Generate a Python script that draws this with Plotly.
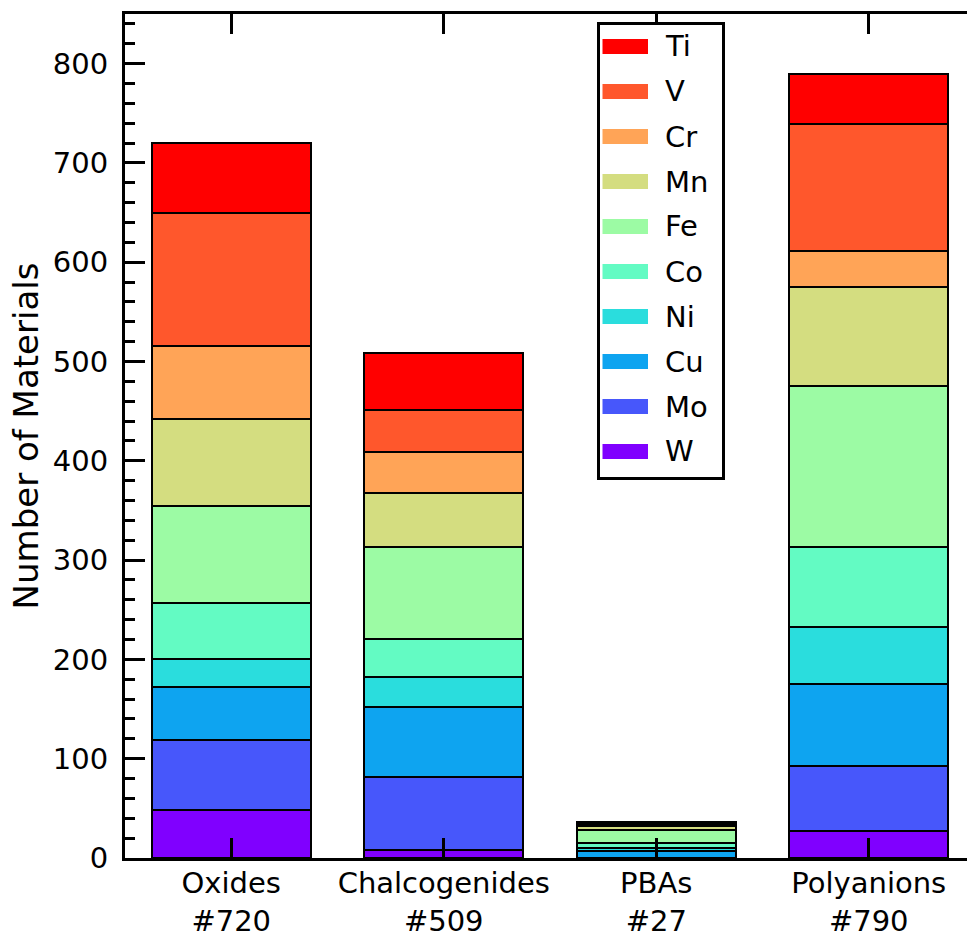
import plotly.graph_objects as go

# Materials per structural family, split by transition metal
categories = ["Oxides", "Chalcogenides", "PBAs", "Polyanions"]
totals = [720, 509, 27, 790]

elements = ["Ti", "V", "Cr", "Mn", "Fe", "Co", "Ni", "Cu", "Mo", "W"]
ti = [70, 58, 2, 51]
v = [134, 42, 1, 128]
cr = [74, 41, 1, 36]
mn = [87, 55, 4, 100]
fe = [98, 92, 13, 162]
co = [57, 39, 5, 80]
ni = [28, 30, 3, 58]
cu = [53, 70, 7, 82]
mo = [71, 74, 0, 66]
w = [48, 8, 0, 27]

# rainbow colormap sampled at 10 points (Ti = top/red, W = bottom/violet)
colors = ["#ff0000", "#ff572c", "#ffa457", "#d4dd80", "#9cfba4",
          "#63fbc3", "#2adddd", "#0ea4f0", "#4757fb", "#8000ff"]

counts = [ti, v, cr, mn, fe, co, ni, cu, mo, w]

W_PX, H_PX = 967, 936
L, R, T, B = 125, 0, 14, 78
PLOT_W = W_PX - L - R
PLOT_H = H_PX - T - B
UNIT_PX = 212.5  # pixels per category slot
x_range = [-0.5, -0.5 + PLOT_W / UNIT_PX]
y_range = [0, 850]

FONT = "DejaVu Sans"
TICK_SIZE = 29

fig = go.Figure()

# stack from the bottom (W) up to the top (Ti)
for name, vals, col in reversed(list(zip(elements, counts, colors))):
    fig.add_trace(go.Bar(
        x=list(range(len(categories))), y=vals, name=name,
        width=0.75, marker=dict(color=col, line=dict(color="black", width=2)),
        showlegend=False,
    ))

ticktext = [f"{c}<br>#{t}" for c, t in zip(categories, totals)]

fig.update_layout(
    width=W_PX, height=H_PX,
    margin=dict(l=L, r=R, t=T, b=B, pad=0),
    barmode="stack",
    plot_bgcolor="white", paper_bgcolor="white",
    font=dict(family=FONT, size=TICK_SIZE, color="black"),
    xaxis=dict(
        range=x_range, tickmode="array", tickvals=list(range(len(categories))),
        ticktext=ticktext, ticks="inside", ticklen=20, tickwidth=3,
        tickcolor="black", showline=True, linewidth=3, linecolor="black",
        mirror="ticks", showgrid=False, zeroline=False, automargin=False,
        tickfont=dict(size=TICK_SIZE), ticklabelstandoff=-3,
    ),
    yaxis=dict(
        range=y_range, dtick=100, ticks="inside", ticklen=20, tickwidth=3,
        tickcolor="black", showline=True, linewidth=3, linecolor="black",
        showgrid=False, zeroline=False, tickfont=dict(size=TICK_SIZE),
        ticklabelstandoff=8, automargin=False,
        minor=dict(dtick=20, ticks="inside", ticklen=10, tickwidth=3,
                   tickcolor="black", showgrid=False),
        title=dict(text="Number of Materials", font=dict(size=34), standoff=4),
    ),
    yaxis2=dict(
        range=y_range, overlaying="y", side="right", dtick=100,
        ticks="inside", ticklen=13, tickwidth=3, tickcolor="black",
        showline=False, showgrid=False, zeroline=False, showticklabels=False,
        automargin=False,
        minor=dict(dtick=20, ticks="inside", ticklen=3, tickwidth=3,
                   tickcolor="black", showgrid=False),
    ),
)


def px_x(px):
    return (px - L) / PLOT_W


def px_y(py):
    return (H_PX - B - py) / PLOT_H


# legend box
fig.add_shape(type="rect", xref="paper", yref="paper", layer="above",
              x0=px_x(598.5), x1=px_x(723.5), y0=px_y(478.5), y1=px_y(23.5),
              line=dict(color="black", width=3), fillcolor="white")

for i, (name, col) in enumerate(zip(elements, colors)):
    cy = 46.5 + 45 * i
    fig.add_shape(type="rect", xref="paper", yref="paper", layer="above",
                  x0=px_x(602.5), x1=px_x(648), y0=px_y(cy + 7.5), y1=px_y(cy - 7.5),
                  line=dict(width=0), fillcolor=col)
    fig.add_annotation(xref="paper", yref="paper", x=px_x(663), y=px_y(cy),
                       text=name, showarrow=False, xanchor="left", yanchor="middle",
                       font=dict(family=FONT, size=TICK_SIZE, color="black"))

fig.write_html("out.html")
